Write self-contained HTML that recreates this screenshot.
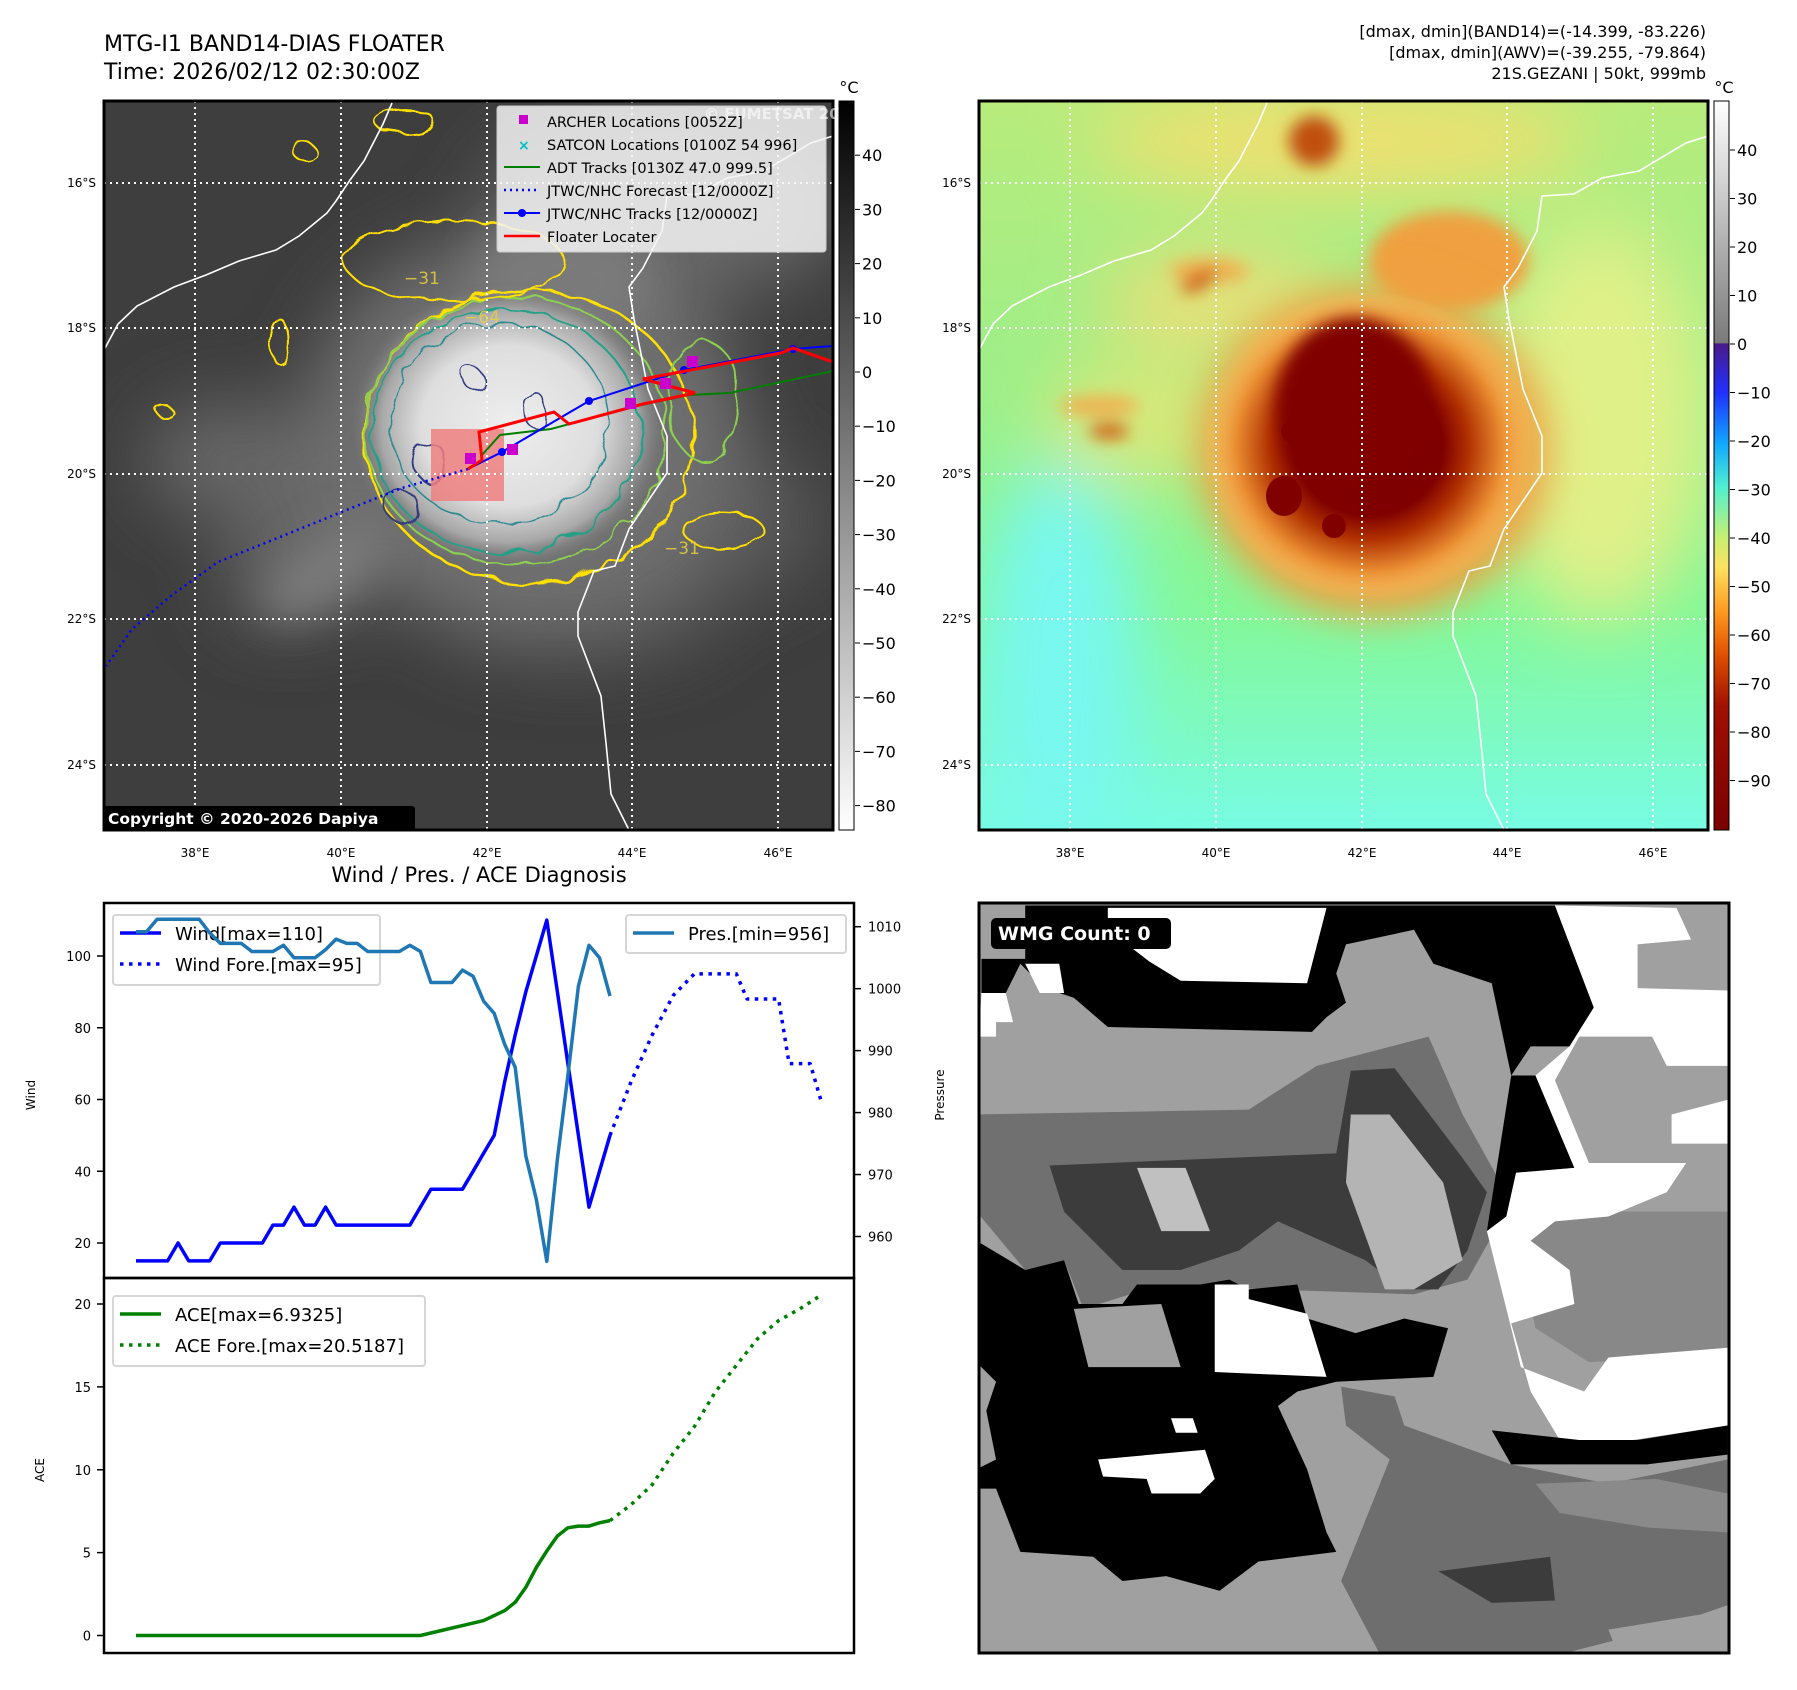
<!DOCTYPE html>
<html><head><meta charset="utf-8"><style>
html,body{margin:0;padding:0;background:#fff;}
svg{display:block;font-family:"DejaVu Sans","Liberation Sans",sans-serif;}
</style></head><body>
<svg id="root" width="1797" height="1690" viewBox="0 0 1797 1690" xmlns="http://www.w3.org/2000/svg">
<defs>
  <filter id="blur8" x="-50%" y="-50%" width="200%" height="200%"><feGaussianBlur stdDeviation="8"/></filter>
  <filter id="blur20" x="-50%" y="-50%" width="200%" height="200%"><feGaussianBlur stdDeviation="20"/></filter>
  <filter id="blur35" x="-50%" y="-50%" width="200%" height="200%"><feGaussianBlur stdDeviation="35"/></filter>
  <filter id="wobble" x="-20%" y="-20%" width="140%" height="140%"><feTurbulence type="fractalNoise" baseFrequency="0.04" numOctaves="2" seed="3"/><feDisplacementMap in="SourceGraphic" scale="14"/></filter>
  <radialGradient id="stormg" cx="0.5" cy="0.5" r="0.5">
    <stop offset="0" stop-color="#eeeeee"/><stop offset="0.55" stop-color="#dedede"/><stop offset="0.8" stop-color="#a8a8a8"/><stop offset="1" stop-color="#707070" stop-opacity="0"/>
  </radialGradient>
  <linearGradient id="cb1" x1="0" y1="0" x2="0" y2="1"><stop offset="0" stop-color="#000"/><stop offset="1" stop-color="#fff"/></linearGradient>
  <linearGradient id="cb2" x1="0" y1="0" x2="0" y2="1">
    <stop offset="0" stop-color="#ffffff"/><stop offset="0.332" stop-color="#7a7a7a"/>
    <stop offset="0.333" stop-color="#4a1a8a"/><stop offset="0.4" stop-color="#2030ff"/>
    <stop offset="0.47" stop-color="#10a8ff"/><stop offset="0.53" stop-color="#50f0d0"/>
    <stop offset="0.6" stop-color="#c8f070"/><stop offset="0.64" stop-color="#ffe060"/>
    <stop offset="0.7" stop-color="#ff9a20"/><stop offset="0.76" stop-color="#e05000"/>
    <stop offset="0.83" stop-color="#a01000"/><stop offset="1" stop-color="#7a0000"/>
  </linearGradient>
  <linearGradient id="bg2" x1="0" y1="0" x2="0" y2="1">
    <stop offset="0" stop-color="#b8ec7c"/><stop offset="0.35" stop-color="#a0ee88"/><stop offset="0.7" stop-color="#84f898"/><stop offset="1" stop-color="#78fce4"/>
  </linearGradient>
  <radialGradient id="core2" cx="0.5" cy="0.5" r="0.5">
    <stop offset="0" stop-color="#7a0000"/><stop offset="0.45" stop-color="#800000"/><stop offset="0.6" stop-color="#b03000"/><stop offset="0.8" stop-color="#e88a30"/><stop offset="1" stop-color="#ffd070" stop-opacity="0"/>
  </radialGradient>
  <clipPath id="m1clip"><rect x="0" y="0" width="729" height="729"/></clipPath>
  <clipPath id="m2clip"><rect x="0" y="0" width="729" height="729"/></clipPath>
  <clipPath id="wclip"><rect x="979" y="903" width="750" height="750"/></clipPath>
  <path id="coastAf" d="M0,249 L14,223 L33,205 L70,186 L102,174 L135,160 L172,149 L195,135 L223,112 L232,100 L246,79 L260,60 L279,23 L288,2"/>
  <path id="coastMg" d="M729,35 L707,42 L660,70 L623,77 L595,93 L563,95 L558,130 L539,167 L525,186 L530,218 L544,288 L563,335 L563,372 L525,428 L511,465 L490,470 L474,511 L474,535 L497,595 L502,642 L507,693 L525,729"/>
  <g id="grid" stroke="#fff" stroke-width="2" stroke-dasharray="2,4" fill="none">
    <line x1="91" y1="0" x2="91" y2="729"/><line x1="237" y1="0" x2="237" y2="729"/><line x1="383" y1="0" x2="383" y2="729"/><line x1="528" y1="0" x2="528" y2="729"/><line x1="674" y1="0" x2="674" y2="729"/>
    <line x1="0" y1="82" x2="729" y2="82"/><line x1="0" y1="227" x2="729" y2="227"/><line x1="0" y1="373" x2="729" y2="373"/><line x1="0" y1="518" x2="729" y2="518"/><line x1="0" y1="664" x2="729" y2="664"/>
  </g>
</defs>

<text x="104" y="51" font-size="22" fill="#000">MTG-I1 BAND14-DIAS FLOATER</text>
<text x="104" y="79" font-size="22" fill="#000">Time: 2026/02/12 02:30:00Z</text>
<g font-size="16" text-anchor="end" fill="#000">
  <text x="1706" y="37">[dmax, dmin](BAND14)=(-14.399, -83.226)</text>
  <text x="1706" y="58">[dmax, dmin](AWV)=(-39.255, -79.864)</text>
  <text x="1706" y="79">21S.GEZANI | 50kt, 999mb</text>
</g>

<!-- MAP 1 -->
<g transform="translate(104,101)">
  <g clip-path="url(#m1clip)">
    <rect width="729" height="729" fill="#3e3e3e"/>
    <g filter="url(#blur35)" fill="#666">
      <ellipse cx="560" cy="110" rx="180" ry="90"/>
      <ellipse cx="230" cy="440" rx="120" ry="70" transform="rotate(-30 230 440)"/>
      <ellipse cx="130" cy="360" rx="90" ry="60"/>
      <ellipse cx="600" cy="420" rx="120" ry="80" fill="#585858"/>
      <ellipse cx="470" cy="500" rx="150" ry="60" fill="#5c5c5c"/>
      <ellipse cx="420" cy="330" rx="220" ry="200" fill="#707070"/>
    </g>
    <g filter="url(#blur20)" fill="#7a7a7a">
      <ellipse cx="220" cy="470" rx="70" ry="30" transform="rotate(-35 220 470)"/>
      <ellipse cx="460" cy="180" rx="90" ry="60"/>
    </g>
    <ellipse cx="405" cy="325" rx="160" ry="145" fill="url(#stormg)"/>
    <g fill="none" filter="url(#wobble)">
      <ellipse cx="425" cy="335" rx="164" ry="146" stroke="#ffe000" stroke-width="2.5"/>
      <ellipse cx="412" cy="330" rx="150" ry="134" stroke="#8cd050" stroke-width="2"/>
      <ellipse cx="402" cy="330" rx="134" ry="122" stroke="#20a088" stroke-width="2"/>
      <ellipse cx="395" cy="322" rx="110" ry="100" stroke="#2a8a90" stroke-width="1.5"/>
      <path d="M320,380 C300,360 310,335 335,345 C350,360 340,385 320,380 Z" stroke="#303a80" stroke-width="2"/>
      <path d="M290,420 C270,400 290,380 310,395 C320,410 305,430 290,420 Z" stroke="#303a80" stroke-width="2"/>
      <path d="M360,280 C350,260 380,262 380,280 C375,292 362,290 360,280 Z" stroke="#303a80" stroke-width="1.5"/>
      <path d="M420,300 C430,280 450,300 440,320 C430,335 415,320 420,300 Z" stroke="#303a80" stroke-width="1.5"/>
    </g>
    <g fill="none" stroke="#ffe000" stroke-width="2" filter="url(#wobble)">
      <ellipse cx="350" cy="160" rx="110" ry="40"/>
      <ellipse cx="300" cy="20" rx="30" ry="12"/>
      <ellipse cx="200" cy="50" rx="12" ry="8"/>
      <ellipse cx="620" cy="430" rx="40" ry="18"/>
      <ellipse cx="60" cy="310" rx="8" ry="5"/>
      <ellipse cx="175" cy="240" rx="10" ry="22"/>
      <ellipse cx="600" cy="300" rx="35" ry="60" stroke="#8cd050"/>
    </g>
    <rect x="327" y="328" width="73" height="72" fill="#f08080" opacity="0.85"/>
    <use href="#grid"/>
    <use href="#coastAf" fill="none" stroke="#fff" stroke-width="1.6"/>
    <use href="#coastMg" fill="none" stroke="#fff" stroke-width="1.6"/>
    <polyline points="364,368 298,387 240,410 171,438 114,461 68,494 28,528 2,565" fill="none" stroke="#0000ff" stroke-width="2.5" stroke-dasharray="2,4"/>
    <polyline points="378,354 396,334 447,328 528,306 585,294 626,292 729,270" fill="none" stroke="#008000" stroke-width="2"/>
    <polyline points="364,368 398,351 485,300 580,269 689,248 729,245" fill="none" stroke="#0000ff" stroke-width="2"/>
    <g fill="#0000ff"><circle cx="398" cy="351" r="4"/><circle cx="485" cy="300" r="4"/><circle cx="580" cy="269" r="4"/><circle cx="689" cy="248" r="4"/></g>
    <polyline points="364,368 378,359 375,331 450,311 465,323 539,303 591,292 539,278 677,252 689,247 729,261" fill="none" stroke="#ff0000" stroke-width="3"/>
    <g fill="#cc00cc"><rect x="361" y="352" width="11" height="11"/><rect x="403" y="343" width="11" height="11"/><rect x="521" y="297" width="11" height="11"/><rect x="556" y="277" width="11" height="11"/><rect x="583" y="255" width="11" height="11"/></g>
    <g font-size="17" fill="#e8d040" opacity="0.85"><text x="300" y="183">−31</text><text x="360" y="222">−64</text><text x="560" y="453">−31</text></g>
  </g>
  <rect x="0" y="0" width="729" height="729" fill="none" stroke="#000" stroke-width="3"/>
  <g>
    <rect x="393" y="5" width="329" height="146" rx="3" fill="#f4f4f4" fill-opacity="0.85" stroke="#ccc"/>
    <text x="600" y="18" font-size="15" font-weight="bold" fill="#fff" opacity="0.6">© EUMETSAT 2026</text>
    <g font-size="14.5" fill="#000">
      <rect x="415" y="14" width="9" height="9" fill="#cc00cc"/><text x="443" y="26">ARCHER Locations [0052Z]</text>
      <text x="414" y="49" fill="#00c0c0" font-size="14" font-weight="bold">×</text><text x="443" y="49">SATCON Locations [0100Z 54 996]</text>
      <line x1="400" y1="66" x2="436" y2="66" stroke="#008000" stroke-width="2"/><text x="443" y="72">ADT Tracks [0130Z 47.0 999.5]</text>
      <line x1="400" y1="89" x2="436" y2="89" stroke="#0000ff" stroke-width="2.5" stroke-dasharray="2,4"/><text x="443" y="95">JTWC/NHC Forecast [12/0000Z]</text>
      <line x1="400" y1="112" x2="436" y2="112" stroke="#0000ff" stroke-width="2"/><circle cx="418" cy="112" r="4" fill="#0000ff"/><text x="443" y="118">JTWC/NHC Tracks [12/0000Z]</text>
      <line x1="400" y1="135" x2="436" y2="135" stroke="#ff0000" stroke-width="2.5"/><text x="443" y="141">Floater Locater</text>
    </g>
  </g>
  <g>
    <rect x="-1" y="705" width="312" height="25" rx="3" fill="#000"/>
    <text x="4" y="723" font-size="15.5" font-weight="bold" fill="#fff">Copyright © 2020-2026 Dapiya</text>
  </g>
</g>
<g font-size="12" fill="#000">
  <g text-anchor="end"><text x="96" y="187">16°S</text><text x="96" y="332">18°S</text><text x="96" y="478">20°S</text><text x="96" y="623">22°S</text><text x="96" y="769">24°S</text></g>
  <g text-anchor="middle"><text x="195" y="857">38°E</text><text x="341" y="857">40°E</text><text x="487" y="857">42°E</text><text x="632" y="857">44°E</text><text x="778" y="857">46°E</text></g>
</g>
<g>
  <rect x="839" y="101" width="15" height="729" fill="url(#cb1)" stroke="#000" stroke-width="1"/>
  <text x="849" y="93" font-size="16" text-anchor="middle">°C</text>
  <g font-size="16" fill="#000" id="cb1labels"></g>
</g>

<!-- MAP 2 -->
<g transform="translate(979,101)">
  <g clip-path="url(#m2clip)">
    <rect width="729" height="729" fill="url(#bg2)"/>
    <g filter="url(#blur35)">
      <ellipse cx="80" cy="560" rx="80" ry="200" fill="#78f8f0"/>
      <ellipse cx="620" cy="320" rx="110" ry="200" fill="#e0f088"/>
      <ellipse cx="360" cy="40" rx="250" ry="50" fill="#f0e070"/>
      <ellipse cx="160" cy="320" rx="100" ry="60" fill="#d8e878"/>
      <ellipse cx="240" cy="200" rx="120" ry="50" fill="#e8e078"/>
    </g>
    <g filter="url(#blur8)">
      <ellipse cx="470" cy="160" rx="80" ry="50" fill="#f0a040"/>
      <ellipse cx="335" cy="40" rx="25" ry="25" fill="#c05010"/>
      <ellipse cx="230" cy="170" rx="40" ry="12" fill="#f0b050"/>
      <ellipse cx="120" cy="305" rx="40" ry="10" fill="#f0b050"/>
      <ellipse cx="220" cy="180" rx="20" ry="8" fill="#d06010" transform="rotate(-30 220 180)"/>
      <ellipse cx="130" cy="330" rx="20" ry="8" fill="#d06010"/>
    </g>
    <ellipse cx="395" cy="350" rx="175" ry="165" fill="#f0a040" filter="url(#blur20)"/>
    <ellipse cx="390" cy="345" rx="165" ry="155" fill="url(#core2)"/>
    <ellipse cx="375" cy="305" rx="78" ry="88" fill="#800000" filter="url(#blur8)"/>
    <ellipse cx="305" cy="395" rx="18" ry="20" fill="#800000"/>
    <ellipse cx="320" cy="330" rx="18" ry="14" fill="#800000"/>
    <ellipse cx="355" cy="425" rx="12" ry="12" fill="#800000"/>
    <use href="#grid"/>
    <use href="#coastAf" fill="none" stroke="#fff" stroke-width="1.6"/>
    <use href="#coastMg" fill="none" stroke="#fff" stroke-width="1.6"/>
  </g>
  <rect x="0" y="0" width="729" height="729" fill="none" stroke="#000" stroke-width="3"/>
</g>
<g font-size="12" fill="#000">
  <g text-anchor="end"><text x="971" y="187">16°S</text><text x="971" y="332">18°S</text><text x="971" y="478">20°S</text><text x="971" y="623">22°S</text><text x="971" y="769">24°S</text></g>
  <g text-anchor="middle"><text x="1070" y="857">38°E</text><text x="1216" y="857">40°E</text><text x="1362" y="857">42°E</text><text x="1507" y="857">44°E</text><text x="1653" y="857">46°E</text></g>
</g>
<g>
  <rect x="1714" y="101" width="15" height="729" fill="url(#cb2)" stroke="#000" stroke-width="1"/>
  <text x="1724" y="93" font-size="16" text-anchor="middle">°C</text>
  <g font-size="16" fill="#000" id="cb2labels"></g>
</g>

<!-- WMG panel -->
<g>
  <g clip-path="url(#wclip)">
    <rect x="979" y="903" width="750" height="750" fill="#a0a0a0"/>
    <g transform="matrix(0.486 0 0 0.486 976.6 900.6)">
      <polygon fill="#888" points="1100,640 1545,640 1545,930 1260,950 1150,880"/>
      <polygon fill="#707070" points="0,440 560,430 700,340 930,280 1000,440 1100,620 1010,780 900,810 600,800 380,790 220,840 180,740 100,760 0,640"/>
      <polygon fill="#3c3c3c" points="150,545 740,520 770,350 860,345 1000,530 1050,600 1010,720 950,800 880,800 800,740 620,660 540,720 420,760 300,760 180,640"/>
      <polygon fill="#c0c0c0" points="330,550 430,550 480,680 380,680"/>
      <polygon fill="#b4b4b4" points="770,440 850,440 960,580 1000,740 900,800 840,800 760,580"/>
      <polygon fill="#000" points="100,10 1190,10 1270,220 1220,300 1140,300 1100,360 1060,170 940,130 900,60 760,90 740,150 760,210 720,240 690,270 270,260 200,200 140,180 90,130 60,190 10,190 10,120 100,120"/>
      <polygon fill="#fff" points="270,15 720,15 680,170 420,165 355,125 270,60"/>
      <polygon fill="#fff" points="100,130 170,130 180,190 130,190"/>
      <polygon fill="#fff" points="10,190 60,190 75,250 40,250 40,280 5,280"/>
      <polygon fill="#000" points="1100,360 1150,360 1230,550 1110,560 1090,650 1050,680"/>
      <polygon fill="#fff" points="1190,10 1440,15 1470,80 1360,90 1360,180 1545,185 1545,340 1420,340 1390,280 1240,280 1190,370 1260,540 1460,540 1420,600 1300,650 1190,660 1140,700 1220,760 1230,830 1100,870 1140,1010 1230,1160 1320,1140 1350,1110 1545,1080 1545,920 1300,940 1250,1010 1120,960 1050,680 1090,650 1110,560 1230,550 1150,360 1220,300 1270,220"/>
      <polygon fill="#fff" points="1430,440 1545,410 1545,500 1430,500"/>
      <polygon fill="#000" points="0,700 100,760 180,740 210,830 300,830 330,790 460,790 520,780 560,800 660,790 680,860 780,890 880,860 970,880 940,980 740,990 660,1010 620,1040 680,1170 720,1300 740,1340 580,1360 500,1420 390,1390 300,1400 240,1350 90,1340 40,1210 0,1210 0,1170 40,1150 20,1050 40,990 0,950"/>
      <polygon fill="#a0a0a0" points="200,840 380,830 420,960 230,960"/>
      <polygon fill="#fff" points="490,790 560,790 560,820 680,850 720,980 490,970"/>
      <polygon fill="#fff" points="250,1150 470,1130 490,1190 460,1220 360,1220 350,1190 260,1185"/>
      <polygon fill="#fff" points="400,1065 445,1065 455,1095 410,1095"/>
      <polygon fill="#000" points="1060,1090 1240,1110 1360,1110 1545,1080 1545,1140 1380,1160 1230,1160 1100,1160"/>
      <polygon fill="#6e6e6e" points="750,1000 860,1020 880,1080 1100,1160 1300,1200 1545,1150 1545,1450 1400,1500 1200,1551 830,1551 750,1400 850,1150 760,1080"/>
      <polygon fill="#8a8a8a" points="1150,1200 1400,1190 1545,1220 1545,1300 1380,1290 1200,1260"/>
      <polygon fill="#3c3c3c" points="950,1380 1180,1350 1190,1440 1060,1445"/>
      <polygon fill="#a0a0a0" points="1300,1500 1545,1460 1545,1551 1320,1551"/>
    </g>
  </g>
  <rect x="979" y="903" width="750" height="750" fill="none" stroke="#000" stroke-width="3"/>
  <rect x="991" y="918" width="180" height="31" rx="5" fill="#000"/>
  <text x="998" y="940" font-size="19" font-weight="bold" fill="#fff">WMG Count: 0</text>
</g>

<text x="479" y="882" font-size="21" text-anchor="middle" fill="#000">Wind / Pres. / ACE Diagnosis</text>
<g id="chart"></g>
</svg>
<script>
var windIdx = [0,1,2,3,4,5,6,7,8,9,10,11,12,13,14,15,16,17,18,19,20,21,22,23,24,25,26,27,28,29,30,31,32,33,34,35,36,37,38,39,40,41,42,43,44,45];
var windObs = [15,15,15,15,20,15,15,15,20,20,20,20,20,25,25,30,25,25,30,25,25,25,25,25,25,25,25,30,35,35,35,35,40,45,50,65,78,90,100,110,90,70,50,30,40,50];
var presObs = [1009.2,1009.2,1011.2,1011.2,1011.2,1011.2,1011.2,1009,1007.3,1007.3,1007.3,1006,1006,1006,1007,1005,1005,1005,1006.3,1008,1007.3,1007.3,1006,1006,1006,1006,1007,1006,1001,1001,1001,1003,1002,998,996,991,987.3,973,966,956,972.5,986,1000.4,1007,1005,998.8];
var aceObs = [0,0,0,0,0,0,0,0,0,0,0,0,0,0,0,0,0,0,0,0,0,0,0,0,0,0,0,0,0.15,0.3,0.45,0.6,0.75,0.9,1.2,1.5,2.0,2.9,4.1,5.1,6.0,6.5,6.6,6.6,6.8,6.93];
var foreIdx = [45,47,49,51,53,55,57,58,60,61,62,64,65];
var windFore = [50,65,78,89,95,95,95,88,88,88,70,70,60];
var aceForeIdx = [45,47,49,51,53,55,57,59,61,63,65];
var aceFore = [6.93,7.9,9.1,11,12.6,14.7,16.3,17.9,19.0,19.7,20.52];
var windTicks = [20,40,60,80,100];
var presTicks = [960,970,980,990,1000,1010];
var aceTicks = [0,5,10,15,20];
var cb1Ticks = [40,30,20,10,0,-10,-20,-30,-40,-50,-60,-70,-80];
var cb2Ticks = [40,30,20,10,0,-10,-20,-30,-40,-50,-60,-70,-80,-90];

var NS = 'http://www.w3.org/2000/svg';
function mk(tag, attrs, parent){var e=document.createElementNS(NS,tag);for(var k in attrs)e.setAttribute(k,attrs[k]);parent.appendChild(e);return e;}
function xS(i){return 136 + i*(684.7/65);}
function yW(v){return 1243 - (v-20)*3.5875;}
function yP(v){return 926.7 - (v-1010)*6.196;}
function yA(v){return 1635.5 - v*16.575;}
var chart = document.getElementById('chart');

var p1 = mk('rect',{x:104,y:903,width:750,height:375,fill:'none',stroke:'#000','stroke-width':2.5},chart);


var p2 = mk('rect',{x:104,y:1278,width:750,height:375,fill:'none',stroke:'#000','stroke-width':2.5},chart);



function ticks(arr, yf, side, name){
  arr.forEach(function(t){
    var y=yf(t);
    var g=mk('g',{},chart);
    
    
    if(side==='L'){mk('line',{x1:97,y1:y,x2:104,y2:y,stroke:'#000','stroke-width':1.5},g);
      var tx=mk('text',{x:91,y:y+5,'font-size':13,'text-anchor':'end'},g);tx.textContent=t;}
    else {mk('line',{x1:854,y1:y,x2:861,y2:y,stroke:'#000','stroke-width':1.5},g);
      var tx2=mk('text',{x:868,y:y+5,'font-size':13},g);tx2.textContent=t;}
  });
}
ticks(windTicks,yW,'L','wind-tick');
ticks(presTicks,yP,'R','pressure-tick');
ticks(aceTicks,yA,'L','ace-tick');

function axLabel(txt,x,y,name){var t=mk('text',{x:x,y:y,'font-size':12,'text-anchor':'middle',transform:'rotate(-90 '+x+' '+y+')'},chart);t.textContent=txt;
  
  }
axLabel('Wind',35,1095,'wind-axis-title');
axLabel('Pressure',944,1095,'pressure-axis-title');
axLabel('ACE',44,1470,'ace-axis-title');

function line(ix, vals, yf, color, dash, name){
  var pts = ix.map(function(i,k){return xS(i).toFixed(1)+','+yf(vals[k]).toFixed(1);}).join(' ');
  var a={points:pts,fill:'none',stroke:color,'stroke-width':3.5,'stroke-linejoin':'round'};
  if(dash)a['stroke-dasharray']=dash;
  var l=mk('polyline',a,chart);
  
  
}

function legend(x,y,w,h,items,name){
  var g=mk('g',{},chart);
  
  
  mk('rect',{x:x,y:y,width:w,height:h,rx:3,fill:'#fff','fill-opacity':0.8,stroke:'#d6d6d6','stroke-width':2},g);
  items.forEach(function(it,k){
    var yy=y+18+k*31;
    var a={x1:x+7,y1:yy,x2:x+48,y2:yy,stroke:it.c,'stroke-width':3.5};
    if(it.d)a['stroke-dasharray']=it.d;
    mk('line',a,g);
    var t=mk('text',{x:x+62,y:yy+7,'font-size':18},g);t.textContent=it.t;
  });
}
legend(113,915,267,70,[{t:'Wind[max=110]',c:'#0000ff'},{t:'Wind Fore.[max=95]',c:'#0000ff',d:'3.5,5.5'}],'wind-legend');
line(windIdx, windObs, yW, '#0000ff', null, 'wind-line');
line(foreIdx, windFore, yW, '#0000ff', '3.5,5.5', 'wind-forecast-line');
line(windIdx, presObs, yP, '#1f77b4', null, 'pressure-line');
legend(626,915,220,38,[{t:'Pres.[min=956]',c:'#1f77b4'}],'pressure-legend');
line(windIdx, aceObs, yA, '#008000', null, 'ace-line');
line(aceForeIdx, aceFore, yA, '#008000', '3.5,5.5', 'ace-forecast-line');
legend(113,1296,312,70,[{t:'ACE[max=6.9325]',c:'#008000'},{t:'ACE Fore.[max=20.5187]',c:'#008000',d:'3.5,5.5'}],'ace-legend');

function cbLabels(id, arr, x, top, zeroVal, perUnit, name){
  var g=document.getElementById(id);
  arr.forEach(function(v){
    var y = top + (zeroVal - v)*perUnit;
    mk('line',{x1:x-6,y1:y,x2:x-1,y2:y,stroke:'#000','stroke-width':1},g);
    var t=mk('text',{x:x+1,y:y+6},g);t.textContent=(v<0?'\u2212'+(-v):v);
    
    
  });
}
cbLabels('cb1labels', cb1Ticks, 861, 101, 50, 5.42, 'ir-colorbar-tick');
cbLabels('cb2labels', cb2Ticks, 1736, 101, 50.1, 4.85, 'awv-colorbar-tick');
</script>
</body></html>
